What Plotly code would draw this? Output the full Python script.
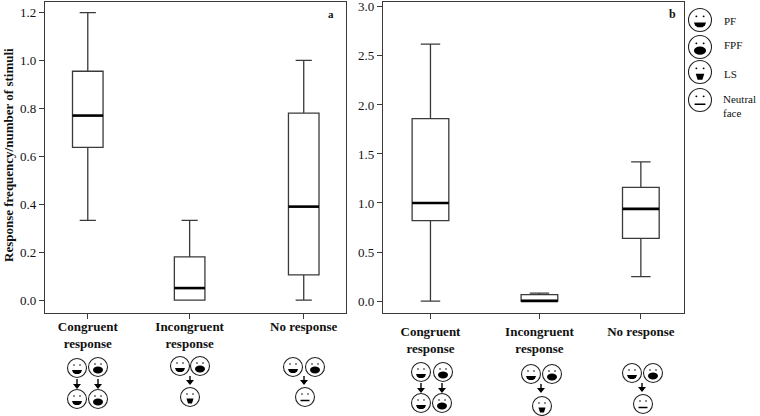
import plotly.graph_objects as go

# panel a
x_a = [1, 2, 3.12]
low_a = [0.333, 0.0, 0.0]
q1_a = [0.6375, 0.0, 0.105]
med_a = [0.77, 0.05, 0.39]
q3_a = [0.955, 0.18, 0.78]
high_a = [1.2, 0.333, 1.0]

# panel b
x_b = [1, 2.01, 2.95]
low_b = [0.0, 0.0, 0.25]
q1_b = [0.82, 0.0, 0.64]
med_b = [1.0, 0.0, 0.94]
q3_b = [1.86, 0.065, 1.16]
high_b = [2.62, 0.08, 1.42]

categories = ["<b>Congruent<br>response</b>", "<b>Incongruent<br>response</b>", "<b>No response</b>"]
ticks_a = [0.0, 0.2, 0.4, 0.6, 0.8, 1.0, 1.2]
ticks_b = [0.0, 0.5, 1.0, 1.5, 2.0, 2.5, 3.0]

SERIF = "Liberation Serif, Times New Roman, serif"
INK = "#3a3a3a"
W, H = 760, 416

fig = go.Figure()


def px(x):
    return x / W


def py(y):
    return 1 - y / H


def add_boxes(x, low, q1, med, q3, high, xaxis, yaxis, half):
    fig.add_trace(go.Box(
        x=x, q1=q1, median=med, q3=q3, lowerfence=low, upperfence=high,
        width=half * 2, whiskerwidth=0.53,
        fillcolor="white", line=dict(color=INK, width=1.3),
        boxpoints=False, hoverinfo="skip", showlegend=False,
        xaxis=xaxis, yaxis=yaxis,
    ))
    # plotly has no separate median width, thick bar goes on top
    for xi, m in zip(x, med):
        fig.add_trace(go.Scatter(
            x=[xi - half, xi + half], y=[m, m], mode="lines",
            line=dict(color="black", width=2.6),
            hoverinfo="skip", showlegend=False, xaxis=xaxis, yaxis=yaxis,
        ))


add_boxes(x_a, low_a, q1_a, med_a, q3_a, high_a, "x", "y", 0.15)
add_boxes(x_b, low_b, q1_b, med_b, q3_b, high_b, "x2", "y2", 0.17)

shapes = []


def circle(cx, cy, rx, ry=None, fill="white", lw=1.1):
    ry = rx if ry is None else ry
    shapes.append(dict(type="circle", xref="paper", yref="paper", x0=px(cx - rx), x1=px(cx + rx),
                       y0=py(cy - ry), y1=py(cy + ry), fillcolor=fill,
                       line=dict(color="#222222", width=lw)))


def polygon(points):
    path = "M " + " L ".join(f"{px(a):.5f} {py(b):.5f}" for a, b in points) + " Z"
    shapes.append(dict(type="path", xref="paper", yref="paper", path=path,
                       fillcolor="black", line=dict(width=0)))


def face(cx, cy, kind, r=9.5):
    s = r / 9.5
    circle(cx, cy, r)
    circle(cx - 3 * s, cy - 3 * s, 0.8 * s, fill="black", lw=0)
    circle(cx + 3 * s, cy - 3 * s, 0.8 * s, fill="black", lw=0)
    if kind == "PF":
        polygon([(cx - 5 * s, cy + 2 * s), (cx + 5 * s, cy + 2 * s), (cx + 4 * s, cy + 4.5 * s),
                 (cx + 2 * s, cy + 6 * s), (cx - 2 * s, cy + 6 * s), (cx - 4 * s, cy + 4.5 * s)])
    elif kind == "FPF":
        circle(cx, cy + 3 * s, 5 * s, 3.4 * s, fill="black", lw=0)
    elif kind == "LS":
        polygon([(cx - 3.5 * s, cy + 1.5 * s), (cx + 3.5 * s, cy + 1.5 * s),
                 (cx + 2 * s, cy + 6.5 * s), (cx - 2 * s, cy + 6.5 * s)])
    else:
        shapes.append(dict(type="line", xref="paper", yref="paper", x0=px(cx - 4.5 * s), x1=px(cx + 4.5 * s),
                           y0=py(cy + 3.5 * s), y1=py(cy + 3.5 * s), line=dict(color="black", width=1.5)))


def arrow(cx, y0, y1):
    shapes.append(dict(type="line", xref="paper", yref="paper", x0=px(cx), x1=px(cx), y0=py(y0), y1=py(y1 - 3),
                       line=dict(color="black", width=1.4)))
    polygon([(cx - 4, y1 - 5), (cx + 4, y1 - 5), (cx, y1)])


# panel a faces
face(77, 368, "PF"); face(98, 367, "FPF")
arrow(77, 379, 389); arrow(98, 379, 389)
face(77, 399, "PF"); face(98, 399, "FPF")
face(180, 366, "PF"); face(200, 366, "FPF")
arrow(190, 376, 385)
face(190, 397, "LS")
face(293, 367, "PF"); face(315, 367, "FPF")
arrow(304, 376, 385)
face(305, 397, "NF")

# panel b faces
face(421, 372, "PF"); face(443, 372, "FPF")
arrow(421, 383, 393); arrow(442, 383, 393)
face(421, 403, "PF"); face(442, 403, "FPF")
face(531, 374, "PF"); face(552, 374, "FPF")
arrow(541, 384, 393)
face(542, 406, "LS")
face(632, 373, "PF"); face(653, 373, "FPF")
arrow(642, 383, 392)
face(643, 404, "NF")

# legend faces
face(700, 20, "PF", r=11.5)
face(700, 47, "FPF", r=11.5)
face(700, 72, "LS", r=11.5)
face(700, 100, "NF", r=11.5)

annotations = [
    dict(text="<b>a</b>", x=331, y=14, size=11),
    dict(text="<b>b</b>", x=672, y=14, size=12),
    dict(text="PF", x=722, y=21, xanchor="left", size=11),
    dict(text="FPF", x=722, y=45, xanchor="left", size=11),
    dict(text="LS", x=722, y=74, xanchor="left", size=11),
    dict(text="Neutral<br>face", x=721, y=106, xanchor="left", align="left", size=11),
    dict(text="<b>Response frequency/number of stimuli</b>", x=8, y=155, textangle=-90, size=13),
]
for a in annotations:
    size = a.pop("size")
    a.setdefault("xanchor", "center")
    a.update(x=px(a["x"]), y=py(a["y"]), xref="paper", yref="paper", yanchor="middle", showarrow=False,
             font=dict(family=SERIF, color="#111111", size=size))

frame = dict(showline=True, linecolor=INK, linewidth=1.3, mirror=True, showgrid=False, zeroline=False,
             ticks="outside", ticklen=5, tickcolor=INK, tickwidth=1, ticklabeloverflow="allow",
             automargin=False, tickfont=dict(family=SERIF, size=13, color="#111111"))

fig.update_layout(
    width=W, height=H, autosize=False,
    margin=dict(l=0, r=0, t=0, b=0),
    paper_bgcolor="white", plot_bgcolor="white",
    boxmode="overlay", showlegend=False,
    shapes=shapes, annotations=annotations,
    xaxis=dict(domain=[45 / W, 346 / W], range=[0.58, 3.535], tickvals=x_a, ticktext=categories,
               ticklabelstandoff=-4, **frame),
    yaxis=dict(domain=[1 - 313 / H, 1 - 2 / H], range=[-0.054, 1.244], tickvals=ticks_a,
               tickformat=".1f", **frame),
    xaxis2=dict(domain=[383 / W, 684 / W], range=[0.56, 3.35], tickvals=x_b, ticktext=categories,
                anchor="y2", ticklabelstandoff=1, **frame),
    yaxis2=dict(domain=[1 - 313 / H, 1 - 2 / H], range=[-0.122, 3.05], tickvals=ticks_b,
                tickformat=".1f", anchor="x2", **frame),
)

fig.write_html("out.html", config=dict(displayModeBar=False),
               post_script="document.body.style.margin='0';")
